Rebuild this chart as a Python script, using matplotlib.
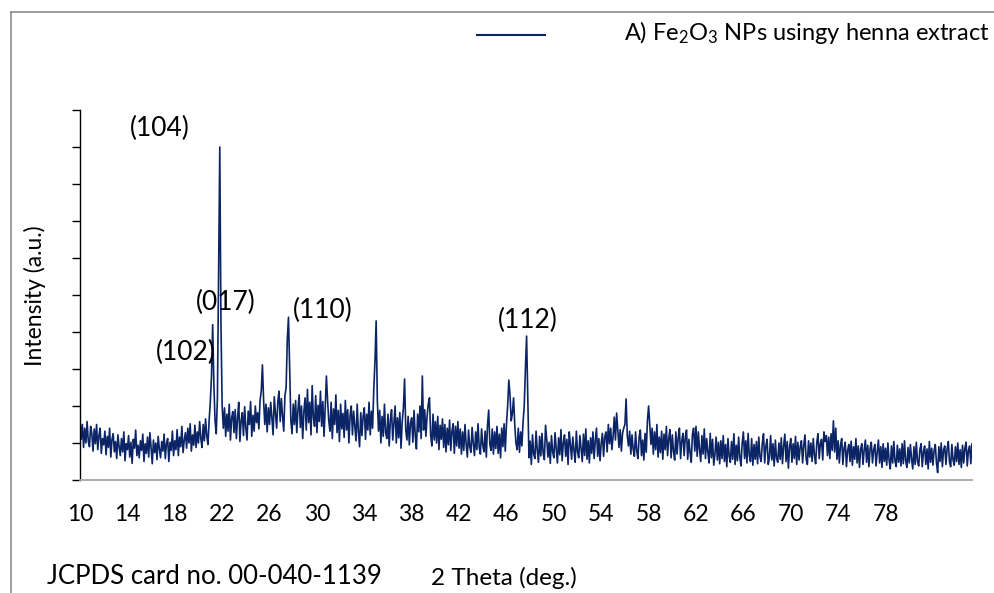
import numpy as np
import matplotlib
matplotlib.use("Agg")
from matplotlib import pyplot as plt
from matplotlib.lines import Line2D

plt.rcParams['font.family'] = ['Lato', 'DejaVu Sans']
plt.rcParams['mathtext.fontset'] = 'custom'
plt.rcParams['mathtext.rm'] = 'Lato'
plt.rcParams['mathtext.it'] = 'Lato:italic'

# XRD scan, 2 theta from 10.0 in 0.1 deg steps
start_2theta = 10.0
step_2theta = 0.1
intensity = [
    165, 110, 150, 88, 140, 100, 158, 105, 90, 145,   # 10
    125, 78, 138, 98, 150, 82, 120, 140, 72, 112,     # 11
    95, 132, 68, 118, 88, 140, 62, 110, 125, 76,      # 12
    104, 58, 122, 90, 66, 112, 76, 130, 52, 98,       # 13
    82, 120, 62, 102, 45, 110, 86, 135, 66, 94,       # 14
    60, 106, 80, 124, 50, 98, 72, 116, 62, 128,       # 15
    88, 44, 108, 74, 100, 55, 118, 84, 60, 104,       # 16
    78, 124, 58, 98, 112, 50, 102, 80, 132, 66,       # 17
    106, 82, 136, 66, 116, 90, 145, 74, 108, 128,     # 18
    86, 140, 100, 152, 78, 122, 94, 148, 88, 130,     # 19
    100, 158, 112, 88, 150, 106, 165, 120, 96, 160,   # 20
    210, 280, 420, 260, 160, 125, 220, 560, 900, 420, # 21
    200, 140, 195, 118, 178, 132, 205, 108, 168, 185, # 22
    128, 190, 112, 168, 210, 104, 160, 182, 120, 198, # 23
    140, 108, 186, 150, 212, 118, 175, 132, 200, 155, # 24
    182, 138, 215, 240, 311, 215, 150, 205, 130, 195, # 25
    150, 210, 168, 122, 225, 180, 140, 212, 240, 158, # 26
    220, 172, 132, 228, 250, 380, 440, 300, 160, 125, # 27
    205, 150, 215, 128, 190, 230, 142, 200, 112, 185, # 28
    222, 135, 245, 155, 210, 122, 255, 168, 145, 228, # 29
    128, 202, 158, 240, 145, 212, 118, 195, 281, 215, # 30
    160, 132, 210, 112, 192, 150, 230, 128, 188, 104, # 31
    205, 138, 180, 115, 215, 135, 190, 100, 175, 200, # 32
    122, 186, 145, 106, 205, 130, 90, 182, 120, 172,  # 33
    195, 110, 178, 135, 210, 122, 186, 140, 245, 320, # 34
    430, 215, 132, 188, 100, 172, 118, 205, 128, 112, # 35
    178, 92, 162, 190, 108, 152, 200, 100, 168, 114,  # 36
    182, 86, 158, 195, 273, 135, 108, 172, 95, 155,   # 37
    168, 102, 188, 120, 84, 178, 130, 200, 112, 281,  # 38
    135, 190, 118, 172, 205, 222, 122, 92, 178, 108,  # 39
    158, 100, 172, 82, 148, 110, 165, 88, 150, 76,    # 40
    140, 95, 162, 80, 132, 152, 72, 145, 92, 158,     # 41
    86, 138, 70, 130, 80, 150, 96, 62, 135, 90,       # 42
    75, 142, 98, 66, 130, 82, 152, 88, 70, 138,       # 43
    95, 76, 132, 62, 148, 189, 96, 80, 138, 70,       # 44
    130, 85, 145, 72, 124, 60, 140, 90, 152, 78,      # 45
    150, 200, 270, 230, 160, 180, 222, 150, 100, 82,  # 46
    140, 75, 130, 92, 155, 200, 300, 389, 230, 60,    # 47
    105, 42, 122, 70, 58, 132, 80, 48, 118, 65,       # 48
    126, 72, 55, 148, 110, 62, 102, 45, 120, 76,      # 49
    60, 128, 84, 46, 114, 68, 136, 52, 100, 122,      # 50
    64, 110, 42, 130, 95, 56, 116, 80, 48, 132,       # 51
    76, 60, 120, 84, 50, 124, 66, 138, 56, 106,       # 52
    46, 114, 72, 130, 58, 106, 140, 64, 112, 52,      # 53
    100, 126, 64, 116, 130, 76, 150, 98, 140, 82,     # 54
    118, 170, 108, 181, 135, 88, 136, 78, 126, 140,   # 55
    150, 219, 120, 92, 132, 70, 122, 82, 64, 130,     # 56
    78, 58, 116, 135, 66, 108, 54, 126, 75, 160,      # 57
    200, 150, 96, 140, 70, 130, 82, 150, 62, 116,     # 58
    74, 132, 56, 124, 82, 145, 66, 112, 136, 60,      # 59
    122, 78, 54, 130, 70, 114, 140, 58, 106, 126,     # 60
    66, 116, 135, 56, 110, 74, 48, 124, 140, 78,      # 61
    145, 64, 130, 82, 50, 120, 70, 138, 58, 112,      # 62
    76, 46, 126, 60, 110, 40, 70, 116, 54, 102,       # 63
    44, 106, 58, 120, 50, 96, 36, 112, 64, 48,        # 64
    104, 56, 125, 42, 94, 52, 116, 62, 38, 100,       # 65
    130, 58, 106, 46, 126, 66, 50, 112, 40, 96,       # 66
    56, 104, 44, 116, 62, 50, 100, 125, 46, 92,       # 67
    110, 42, 62, 120, 54, 98, 38, 108, 58, 48,        # 68
    100, 56, 114, 44, 92, 124, 50, 104, 32, 90,       # 69
    112, 48, 98, 58, 118, 42, 102, 54, 90, 106,       # 70
    46, 94, 122, 56, 42, 106, 62, 100, 50, 112,       # 71
    66, 44, 102, 125, 58, 98, 110, 54, 130, 104,      # 72
    120, 66, 116, 58, 125, 80, 160, 76, 140, 56,      # 73
    106, 46, 94, 112, 42, 86, 102, 36, 80, 96,        # 74
    50, 105, 40, 90, 56, 112, 46, 92, 34, 84,         # 75
    98, 42, 82, 108, 48, 94, 36, 86, 102, 46,         # 76
    82, 96, 38, 76, 108, 46, 90, 34, 98, 50,          # 77
    86, 40, 100, 54, 30, 92, 46, 104, 50, 36,         # 78
    94, 48, 84, 38, 98, 44, 106, 52, 34, 88,          # 79
    46, 96, 56, 30, 90, 42, 102, 50, 38, 82,          # 80
    98, 36, 76, 92, 42, 84, 30, 104, 48, 86,          # 81
    40, 80, 96, 46, 20, 90, 50, 100, 36, 82,          # 82
    92, 42, 84, 104, 48, 36, 96, 54, 40, 90,          # 83
    50, 100, 42, 82, 34, 94, 46, 86, 102, 38,         # 84
    80, 92, 44, 98,                                   # 85
]
two_theta = np.round(start_2theta + step_2theta * np.arange(len(intensity)), 1)

x_ticks = [10, 14, 18, 22, 26, 30, 34, 38, 42, 46, 50, 54, 58, 62, 66, 70, 74, 78]

# hkl labels: (text, 2theta, intensity) where the label sits
peak_labels = [
    ("(104)", 16.7, 950),
    ("(017)", 22.3, 480),
    ("(110)", 30.5, 458),
    ("(102)", 18.9, 345),
    ("(112)", 47.8, 430),
]

line_color = '#0b2466'

fig = plt.figure(figsize=(9.95, 5.93), dpi=100)
ax = fig.add_axes([80 / 995, 1 - 480 / 593, (972 - 80) / 995, (480 - 110) / 593])

ax.plot(two_theta, intensity, color=line_color, linewidth=1.2)

ax.set_xlim(10, 85.3)
ax.set_ylim(0, 1000)
ax.set_xticks(x_ticks)
ax.set_yticks(np.arange(0, 1001, 100))
ax.set_yticklabels([])
ax.tick_params(axis='x', length=0, pad=17, labelsize=16.5)
ax.tick_params(axis='y', direction='out', length=6, width=1, color='black')

for side in ['top', 'right']:
    ax.spines[side].set_visible(False)
ax.spines['left'].set_color('black')
ax.spines['left'].set_linewidth(1)
ax.spines['bottom'].set_color('#a6a6a6')
ax.spines['bottom'].set_linewidth(1.3)

for text, px, py in peak_labels:
    ax.text(px, py, text, fontsize=19, ha='center', va='center')

fig.text(35 / 995, 1 - 296 / 593, "Intensity (a.u.)", rotation=90,
         fontsize=16.5, ha='center', va='center')
fig.text(504 / 995, 1 - 578 / 593, "2 Theta (deg.)", fontsize=17.5,
         ha='center', va='center')
fig.text(47 / 995, 1 - 577 / 593, "JCPDS card no. 00-040-1139", fontsize=18.5,
         ha='left', va='center')

# legend entry
fig.add_artist(Line2D([477 / 995, 545 / 995], [1 - 35 / 593, 1 - 35 / 593],
                      color=line_color, linewidth=1.5))
fig.text(990 / 995, 1 - 33 / 593, "A) Fe$_2$O$_3$ NPs usingy henna extract",
         fontsize=17, ha='right', va='center')

# chart area border (left and top edges visible)
fig.add_artist(Line2D([11 / 995, 11 / 995], [0, 1 - 12 / 593], color='#8c8c8c', linewidth=1.2))
fig.add_artist(Line2D([11 / 995, 1], [1 - 12 / 593, 1 - 12 / 593], color='#8c8c8c', linewidth=1.2))

fig.savefig("out.png", dpi=100)
